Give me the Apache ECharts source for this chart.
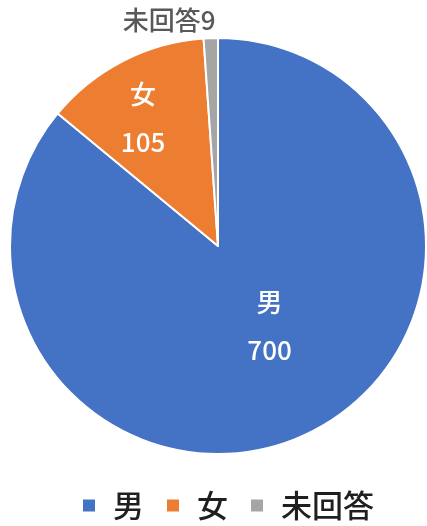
<!DOCTYPE html>
<html>
<head>
<meta charset="utf-8">
<script src="https://cdn.jsdelivr.net/npm/echarts@6/dist/echarts.min.js"></script>
<style>
  html, body { margin: 0; padding: 0; background: #fff; }
  #chart { width: 427px; height: 526px; }
</style>
</head>
<body>
<div id="chart"></div>
<script>
// Respondents by gender
const categories = ['男', '女', '未回答'];
const counts = [700, 105, 9];
const colors = ['#4472C4', '#ED7D31', '#A5A5A5'];

const FONT = '"Noto Sans CJK JP", "Noto Sans", sans-serif';

// per-slice label placement
const labelStyles = [
  { position: 'inside', color: '#fff', lineHeight: 48, offset: [6, -17], formatter: '{b}\n{c}' },
  { position: 'inside', color: '#fff', lineHeight: 48, offset: [-26, -33], formatter: '{b}\n{c}' },
  { position: 'outside', color: '#595959', offset: [10, -10], formatter: '{b}{c}' }
];

const data = categories.map((name, i) => ({
  name: name,
  value: counts[i],
  itemStyle: { color: colors[i] },
  label: labelStyles[i],
  labelLine: { show: false }
}));

const chart = echarts.init(document.getElementById('chart'), null, { renderer: 'canvas' });
chart.setOption({
  animation: false,
  textStyle: { fontFamily: FONT },
  legend: {
    data: categories,
    bottom: 0,
    left: 76,
    icon: 'rect',
    itemWidth: 14,
    itemHeight: 14,
    itemGap: 21,
    textStyle: { fontSize: 31, fontWeight: 500, color: '#1f1f1f', fontFamily: FONT, padding: [0, 0, 0, 12] }
  },
  series: [{
    type: 'pie',
    center: [218, 246],
    radius: 208,
    startAngle: 90,
    clockwise: true,
    avoidLabelOverlap: false,
    itemStyle: { borderColor: '#fff', borderWidth: 2 },
    label: { fontSize: 26, fontWeight: 500, fontFamily: FONT },
    labelLine: { show: false, length: 8, length2: 0 },
    emphasis: { disabled: true },
    data: data
  }]
});
</script>
</body>
</html>
